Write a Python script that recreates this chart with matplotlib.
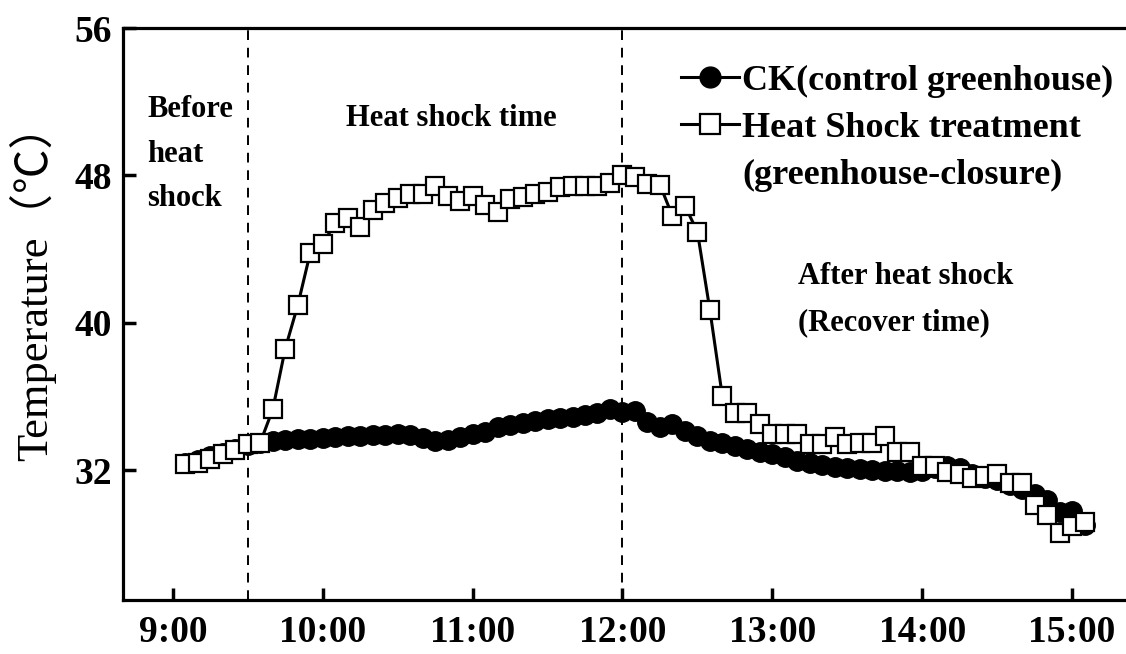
import matplotlib
matplotlib.use("Agg")
import matplotlib.pyplot as plt
from matplotlib.lines import Line2D
import numpy as np

# ---- data ----
start_time = "9:05"
step_minutes = 5
ck_temp = [32.4, 32.55, 32.75, 32.95, 33.15, 33.35, 33.5, 33.6, 33.65, 33.7,
           33.7, 33.75, 33.8, 33.85, 33.85, 33.9, 33.9, 33.95, 33.9, 33.75,
           33.6, 33.65, 33.8, 33.95, 34.05, 34.35, 34.45, 34.55, 34.65, 34.75,
           34.85, 34.9, 35.0, 35.1, 35.3, 35.15, 35.2, 34.6, 34.35, 34.5,
           34.1, 33.85, 33.6, 33.45, 33.3, 33.15, 33.0, 32.85, 32.7, 32.5,
           32.4, 32.3, 32.15, 32.1, 32.05, 32.0, 31.95, 31.95, 31.9, 31.95,
           32.1, 32.25, 32.1, 31.8, 31.6, 31.45, 31.2, 30.95, 30.7, 30.4,
           29.7, 29.8, 29.0]
hs_temp = [32.35, 32.4, 32.6, 32.9, 33.1, 33.4, 33.5, 35.3, 38.6, 40.95,
           43.8, 44.3, 45.4, 45.7, 45.2, 46.1, 46.5, 46.8, 47.0, 47.0,
           47.45, 46.9, 46.6, 46.9, 46.4, 46.0, 46.7, 46.85, 47.0, 47.1,
           47.35, 47.45, 47.45, 47.45, 47.6, 48.0, 47.9, 47.55, 47.5, 45.8,
           46.35, 44.95, 40.7, 36.0, 35.1, 35.1, 34.5, 33.95, 33.95, 33.95,
           33.4, 33.4, 33.8, 33.4, 33.45, 33.5, 33.85, 33.0, 33.0, 32.2,
           32.2, 31.9, 31.8, 31.6, 31.7, 31.8, 31.3, 31.3, 30.1, 29.55,
           28.6, 28.95, 29.2]
x_ticks = ["9:00", "10:00", "11:00", "12:00", "13:00", "14:00", "15:00"]
y_ticks = [32, 40, 48, 56]
phase_bounds = ["9:30", "12:00"]
legend_labels = ["CK(control greenhouse)", "Heat Shock treatment", "(greenhouse-closure)"]


def to_hours(s):
    h, m = s.split(":")
    return int(h) + int(m) / 60.0


t0 = to_hours(start_time)
times = t0 + np.arange(len(ck_temp)) * step_minutes / 60.0

SERIF = ["Liberation Serif", "DejaVu Serif"]

fig = plt.figure(figsize=(11.26, 6.54), dpi=100)
ax = fig.add_axes([0.1092, 0.0826, 0.8908, 0.8744])

ax.plot(times, ck_temp, color="black", lw=2.2, marker="o", ms=14,
        mfc="black", mec="black", zorder=3)
ax.plot(times, hs_temp, color="black", lw=2.2, marker="s", ms=13,
        mfc="white", mec="black", mew=1.6, zorder=4)

for b in phase_bounds:
    ax.axvline(to_hours(b), color="black", lw=1.4, ls=(0, (5, 4)), zorder=1)

ax.set_xlim(8.667, 15.36)
ax.set_ylim(24.95, 56)
ax.set_xticks([to_hours(s) for s in x_ticks])
ax.set_xticklabels(x_ticks)
ax.set_yticks(y_ticks)
ax.set_yticklabels([str(v) for v in y_ticks])

for lab in ax.get_xticklabels() + ax.get_yticklabels():
    lab.set_family(SERIF)
    lab.set_fontweight("bold")
    lab.set_fontsize(27)

ax.tick_params(direction="in", length=9, width=2.5, pad=8)
ax.tick_params(axis="x", pad=11)
for side in ["left", "bottom", "top"]:
    ax.spines[side].set_linewidth(2.3)
ax.spines["right"].set_visible(False)

ax.set_ylabel("Temperature（℃）", family=["Liberation Serif", "Noto Sans CJK SC"],
              fontsize=32)
ax.yaxis.set_label_coords(-0.067, 0.556)

tk = dict(family=SERIF, fontweight="bold", fontsize=22, color="black")
ax.text(8.83, 52.35, "Before\nheat\nshock", va="top", ha="left", linespacing=1.7, **tk)
ax.text(10.86, 51.1, "Heat shock time", ha="center", va="center", **tk)
ax.text(13.17, 42.5, "After heat shock", ha="left", va="center", **tk)
ax.text(13.17, 40.0, "(Recover time)", ha="left", va="center", **tk)

handles = [Line2D([], [], color="black", lw=2.2, marker="o", ms=15, mfc="black"),
           Line2D([], [], color="black", lw=2.2, marker="s", ms=14, mfc="white", mew=1.6),
           Line2D([], [], color="none")]
leg = ax.legend(handles, legend_labels, loc="upper right", frameon=False,
                prop={"family": SERIF, "weight": "bold", "size": 26},
                handlelength=1.6, handletextpad=0.1, labelspacing=0.38,
                bbox_to_anchor=(1.002, 0.962), borderaxespad=0.0)

fig.savefig("out.png", dpi=100)
